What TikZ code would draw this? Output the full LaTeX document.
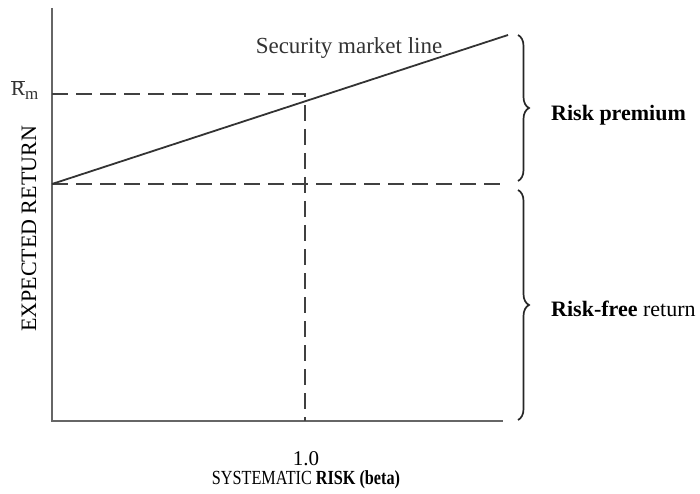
\documentclass[tikz,border=0pt]{standalone}
\usepackage{fontspec}
\setmainfont{Liberation Serif}
\usetikzlibrary{decorations.pathreplacing}
\begin{document}
\begin{tikzpicture}[x=1pt,y=1pt,
  axis/.style={draw=black!60,line width=1.3pt},
  sml/.style={draw=black!80,line width=1.8pt},
  guide/.style={draw=black!75,line width=1.5pt,dash pattern=on 16pt off 8pt},
  bracestyle/.style={draw=black!85,line width=1.7pt,decorate,decoration={brace,amplitude=11pt}},
  lbl/.style={inner sep=0pt}]
\useasboundingbox (0,0) rectangle (700,493);
\coordinate (O) at (52,72);
\coordinate (ytop) at (52,485);
\coordinate (xend) at (503,72);
\coordinate (rf) at (52,309);
\coordinate (smlend) at (508,458);
\coordinate (rm) at (52,399);
\coordinate (rmx) at (305,399);
\coordinate (bx) at (305,72);
\coordinate (rfend) at (503,309);
\draw[axis] (ytop) -- (O) -- (xend);
\draw[guide] (rf) -- (rfend);
\draw[guide] (rm) -- (rmx) -- (bx);
\draw[sml] (rf) -- (smlend);
\coordinate (b1t) at (518,458);
\coordinate (b1b) at (518,312);
\coordinate (b2t) at (518,303);
\coordinate (b2b) at (518,73);
\draw[bracestyle] (b1t) -- (b1b);
\draw[bracestyle] (b2t) -- (b2b);
\node[lbl,anchor=base west,font=\fontsize{22}{24}\selectfont\bfseries] (rp) at (551,372) {Risk premium};
\node[lbl,anchor=base west,font=\fontsize{22}{24}\selectfont] (rfr) at (551,177) {\textbf{Risk-free} return};
\node[lbl,anchor=base,font=\fontsize{23}{25}\selectfont,text=black!80] (smllbl) at (349,439) {Security market line};
\node[lbl,anchor=base west,font=\fontsize{21}{23}\selectfont,text=black!80] (rmlbl) at (11,397) {$\overline{\mbox{R}}_{\mbox{\fontsize{17}{19}\selectfont m}}$};
\node[lbl,rotate=90,font=\fontsize{22}{24}\selectfont] (ylbl) at (29,264) {EXPECTED RETURN};
\node[lbl,anchor=base,font=\fontsize{21}{23}\selectfont] (one) at (306,28) {1.0};
\node[lbl,anchor=base,font=\fontsize{20}{22}\selectfont,xscale=0.81] (xlbl) at (306,9) {SYSTEMATIC \textbf{RISK (beta)}};
\end{tikzpicture}
\end{document}
